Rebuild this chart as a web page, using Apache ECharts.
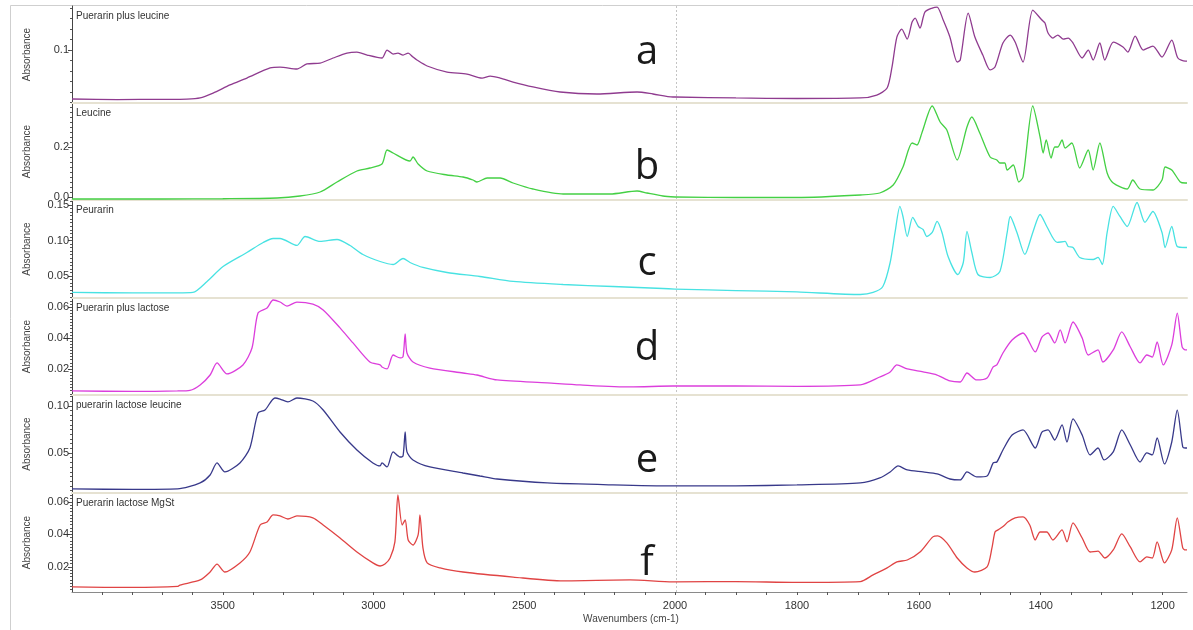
<!DOCTYPE html>
<html>
<head>
<meta charset="utf-8">
<script src="https://cdn.jsdelivr.net/npm/echarts@6/dist/echarts.min.js"></script>
<style>
html, body { margin: 0; padding: 0; background: #fff; }
#chart { width: 1193px; height: 630px; }
#probe { position: absolute; left: -3000px; top: 0; width: 1193px; height: 630px; }
</style>
</head>
<body>
<div id="chart"></div>
<div id="probe"></div>
<script>
// spectra: wavenumber (cm-1) / absorbance
var waveA = [4000, 3850, 3700, 3619, 3575, 3532, 3476, 3420, 3343, 3310, 3254, 3221, 3177, 3134, 3088, 3055, 3021, 2972, 2955, 2935, 2919, 2902, 2885, 2869, 2856, 2822, 2756, 2690, 2640, 2613, 2580, 2537, 2471, 2381, 2259, 2126, 2073, 2007, 2000,
  1900, 1800, 1696, 1669, 1652, 1644, 1636, 1628, 1619, 1611, 1606, 1598, 1590, 1578, 1570, 1560, 1549, 1537, 1532, 1519, 1508, 1495, 1483, 1475, 1462, 1450, 1442, 1429, 1413, 1398, 1393, 1388, 1380, 1372, 1363, 1355, 1347, 1332, 1322, 1314, 1303, 1295, 1281, 1265, 1257, 1245, 1232, 1216, 1201, 1185, 1175, 1163, 1160];
var absA = [0.0533, 0.0528, 0.0530, 0.0532, 0.0543, 0.0590, 0.0667, 0.0733, 0.0829, 0.0838, 0.0819, 0.0867, 0.0876, 0.0924, 0.0971, 0.0981, 0.0952, 0.0924, 0.1000, 0.0962, 0.0971, 0.0952, 0.0971, 0.0933, 0.0905, 0.0848, 0.0790, 0.0771, 0.0733, 0.0752, 0.0733, 0.0695, 0.0648, 0.0600, 0.0581, 0.0600, 0.0581, 0.0552, 0.0552,
  0.0543, 0.0538, 0.0543, 0.0571, 0.0638, 0.0838, 0.1124, 0.1200, 0.1105, 0.1267, 0.1305, 0.1210, 0.1362, 0.1400, 0.1410, 0.1286, 0.1124, 0.0886, 0.0905, 0.1352, 0.1124, 0.0952, 0.0810, 0.0838, 0.1067, 0.1143, 0.1076, 0.0886, 0.1381, 0.1286, 0.1257, 0.1162, 0.1114, 0.1143, 0.1105, 0.1114, 0.1067, 0.0924, 0.1000, 0.0905, 0.1067, 0.0905, 0.1076, 0.1029, 0.0981, 0.1133, 0.1000, 0.1038, 0.0933, 0.1095, 0.0924, 0.0895, 0.0895];

var waveB = [4000, 3700, 3500, 3320, 3244, 3177, 3121, 3055, 3012, 2972, 2955, 2935, 2879, 2869, 2852, 2822, 2756, 2703, 2670, 2657, 2623, 2580, 2537, 2471, 2371, 2215, 2126, 2093, 2040, 2000,
  1900, 1800, 1696, 1664, 1642, 1626, 1611, 1603, 1595, 1578, 1565, 1554, 1537, 1521, 1513, 1500, 1483, 1472, 1467, 1459, 1455, 1445, 1436, 1429, 1413, 1401, 1396, 1391, 1383, 1377, 1372, 1365, 1360, 1349, 1336, 1322, 1314, 1303, 1291, 1281, 1258, 1249, 1237, 1216, 1201, 1196, 1185, 1171, 1163, 1160];
var absB = [-0.008, -0.008, -0.007, -0.004, 0.004, 0.020, 0.060, 0.104, 0.116, 0.132, 0.188, 0.176, 0.144, 0.160, 0.132, 0.104, 0.088, 0.080, 0.068, 0.060, 0.076, 0.076, 0.056, 0.032, 0.012, 0.012, 0.024, 0.016, 0.004, 0.000,
  -0.002, -0.002, 0.008, 0.016, 0.048, 0.120, 0.216, 0.208, 0.256, 0.364, 0.300, 0.268, 0.148, 0.280, 0.320, 0.256, 0.160, 0.148, 0.136, 0.136, 0.108, 0.128, 0.060, 0.080, 0.364, 0.240, 0.176, 0.228, 0.156, 0.200, 0.200, 0.228, 0.196, 0.216, 0.116, 0.188, 0.108, 0.216, 0.096, 0.056, 0.032, 0.068, 0.032, 0.028, 0.068, 0.120, 0.108, 0.060, 0.056, 0.056];

var waveC = [4000, 3800, 3650, 3599, 3552, 3499, 3420, 3366, 3333, 3310, 3254, 3227, 3177, 3121, 3078, 3035, 2978, 2935, 2902, 2879, 2836, 2756, 2647, 2537, 2371, 2206, 2040, 2000,
  1900, 1800, 1696, 1675, 1659, 1647, 1639, 1631, 1626, 1619, 1610, 1601, 1593, 1587, 1578, 1570, 1562, 1552, 1536, 1527, 1521, 1513, 1503, 1483, 1467, 1455, 1450, 1439, 1426, 1413, 1401, 1390, 1373, 1360, 1355, 1347, 1336, 1314, 1306, 1299, 1291, 1281, 1270, 1258, 1242, 1229, 1216, 1201, 1196, 1185, 1176, 1163, 1160];
var absC = [0.0268, 0.0262, 0.0262, 0.0268, 0.0423, 0.0634, 0.0831, 0.0972, 0.1028, 0.1028, 0.0930, 0.1056, 0.0986, 0.1014, 0.0930, 0.0803, 0.0704, 0.0662, 0.0746, 0.0690, 0.0620, 0.0549, 0.0493, 0.0423, 0.0380, 0.0352, 0.0324, 0.0315,
  0.0295, 0.0275, 0.0239, 0.0268, 0.0352, 0.0690, 0.1113, 0.1479, 0.1338, 0.1056, 0.1324, 0.1197, 0.1155, 0.1056, 0.1113, 0.1268, 0.1113, 0.0775, 0.0521, 0.0690, 0.1127, 0.0831, 0.0521, 0.0479, 0.0563, 0.1113, 0.1338, 0.1113, 0.0803, 0.1113, 0.1366, 0.1197, 0.0972, 0.0986, 0.0915, 0.0901, 0.0761, 0.0732, 0.0761, 0.0662, 0.1113, 0.1479, 0.1338, 0.1197, 0.1535, 0.1254, 0.1408, 0.1113, 0.0901, 0.1197, 0.0915, 0.0901, 0.0901];

var waveD = [4000, 3800, 3650, 3609, 3575, 3542, 3519, 3486, 3433, 3403, 3383, 3353, 3333, 3310, 3287, 3254, 3201, 3167, 3111, 3068, 3012, 2978, 2972, 2955, 2935, 2912, 2902, 2895, 2889, 2869, 2813, 2703, 2657, 2590, 2424, 2315, 2149, 2007, 2000,
  1900, 1800, 1696, 1664, 1647, 1636, 1619, 1593, 1570, 1549, 1532, 1521, 1505, 1488, 1478, 1472, 1462, 1447, 1429, 1409, 1398, 1388, 1377, 1368, 1360, 1347, 1332, 1322, 1306, 1298, 1281, 1267, 1253, 1237, 1226, 1217, 1209, 1199, 1185, 1176, 1168, 1163, 1160];
var absD = [0.0058, 0.0055, 0.0058, 0.0062, 0.0097, 0.0161, 0.0239, 0.0168, 0.0226, 0.0335, 0.0561, 0.0594, 0.0645, 0.0632, 0.0606, 0.0632, 0.0619, 0.0581, 0.0465, 0.0368, 0.0245, 0.0226, 0.0213, 0.0200, 0.0290, 0.0271, 0.0280, 0.0426, 0.0303, 0.0245, 0.0206, 0.0174, 0.0161, 0.0129, 0.0110, 0.0097, 0.0084, 0.0090, 0.0090,
  0.0090, 0.0088, 0.0097, 0.0148, 0.0181, 0.0226, 0.0200, 0.0181, 0.0161, 0.0123, 0.0116, 0.0174, 0.0129, 0.0142, 0.0213, 0.0226, 0.0303, 0.0387, 0.0432, 0.0310, 0.0406, 0.0432, 0.0368, 0.0452, 0.0368, 0.0503, 0.0400, 0.0290, 0.0323, 0.0245, 0.0323, 0.0439, 0.0342, 0.0239, 0.0290, 0.0277, 0.0374, 0.0226, 0.0355, 0.0561, 0.0342, 0.0323, 0.0323];

var waveE = [4000, 3800, 3650, 3575, 3542, 3519, 3493, 3443, 3410, 3383, 3360, 3327, 3310, 3284, 3254, 3201, 3167, 3111, 3055, 3002, 2978, 2972, 2955, 2935, 2912, 2902, 2895, 2889, 2869, 2813, 2703, 2647, 2590, 2424, 2206, 2007, 2000,
  1900, 1800, 1696, 1664, 1647, 1634, 1619, 1593, 1570, 1549, 1532, 1521, 1505, 1488, 1478, 1472, 1462, 1447, 1429, 1409, 1398, 1388, 1377, 1365, 1357, 1347, 1332, 1319, 1306, 1296, 1281, 1267, 1253, 1237, 1226, 1217, 1209, 1197, 1185, 1176, 1167, 1163, 1160];
var absE = [0.0117, 0.0112, 0.0117, 0.0181, 0.0266, 0.0394, 0.0298, 0.0394, 0.0553, 0.0926, 0.0957, 0.1085, 0.1074, 0.1043, 0.1085, 0.1053, 0.0957, 0.0723, 0.0532, 0.0394, 0.0362, 0.0394, 0.0351, 0.0511, 0.0457, 0.0470, 0.0723, 0.0511, 0.0426, 0.0351, 0.0287, 0.0255, 0.0223, 0.0181, 0.0160, 0.0149, 0.0149,
  0.0150, 0.0160, 0.0181, 0.0234, 0.0298, 0.0362, 0.0319, 0.0298, 0.0277, 0.0223, 0.0213, 0.0298, 0.0245, 0.0255, 0.0394, 0.0404, 0.0532, 0.0691, 0.0745, 0.0553, 0.0723, 0.0745, 0.0638, 0.0798, 0.0617, 0.0862, 0.0691, 0.0479, 0.0553, 0.0426, 0.0511, 0.0745, 0.0585, 0.0404, 0.0500, 0.0479, 0.0660, 0.0383, 0.0617, 0.0957, 0.0564, 0.0553, 0.0553];

var waveF = [4000, 3800, 3650, 3642, 3575, 3542, 3519, 3493, 3443, 3410, 3376, 3353, 3333, 3310, 3284, 3254, 3201, 3167, 3111, 3055, 3002, 2978, 2962, 2945, 2929, 2919, 2905, 2895, 2885, 2869, 2852, 2846, 2836, 2822, 2779, 2703, 2537, 2371, 2149, 2007, 2000,
  1900, 1800, 1696, 1675, 1652, 1636, 1619, 1598, 1577, 1569, 1554, 1537, 1521, 1508, 1488, 1480, 1475, 1470, 1463, 1459, 1454, 1442, 1429, 1418, 1409, 1401, 1390, 1380, 1365, 1357, 1347, 1332, 1319, 1306, 1295, 1281, 1267, 1253, 1237, 1226, 1217, 1209, 1197, 1185, 1176, 1167, 1163, 1160];
var absF = [0.0077, 0.0074, 0.0080, 0.0089, 0.0120, 0.0169, 0.0218, 0.0169, 0.0225, 0.0292, 0.0458, 0.0477, 0.0520, 0.0514, 0.0495, 0.0514, 0.0502, 0.0458, 0.0378, 0.0292, 0.0225, 0.0206, 0.0218, 0.0255, 0.0354, 0.0643, 0.0458, 0.0489, 0.0366, 0.0335, 0.0397, 0.0520, 0.0317, 0.0225, 0.0194, 0.0169, 0.0138, 0.0114, 0.0120, 0.0108, 0.0108,
  0.0110, 0.0105, 0.0110, 0.0151, 0.0194, 0.0231, 0.0243, 0.0292, 0.0385, 0.0391, 0.0348, 0.0255, 0.0194, 0.0169, 0.0200, 0.0317, 0.0415, 0.0428, 0.0446, 0.0458, 0.0477, 0.0502, 0.0508, 0.0458, 0.0366, 0.0415, 0.0415, 0.0366, 0.0428, 0.0354, 0.0471, 0.0378, 0.0292, 0.0298, 0.0255, 0.0305, 0.0403, 0.0323, 0.0231, 0.0262, 0.0255, 0.0354, 0.0225, 0.0305, 0.0502, 0.0317, 0.0305, 0.0305];

var names = ['Puerarin plus leucine', 'Leucine', 'Peurarin', 'Puerarin plus lactose', 'puerarin lactose leucine', 'Puerarin lactose MgSt'];
var letters = ['a', 'b', 'c', 'd', 'e', 'f'];
var yTickLabels = [[0.1], [0.0, 0.2], [0.05, 0.10, 0.15], [0.02, 0.04, 0.06], [0.05, 0.10], [0.02, 0.04, 0.06]];
var xTickLabelsLeft = [3500, 3000, 2500, 2000];
var xTickLabelsRight = [1800, 1600, 1400, 1200];

var waves = [waveA, waveB, waveC, waveD, waveE, waveF];
var absorb = [absA, absB, absC, absD, absE, absF];
var colors = ['#8f3b8f', '#44d044', '#48e2e2', '#dc3edc', '#38398a', '#e04444'];
var yMin = [0.0495, -0.012, 0.019, 0.0032, 0.0074, 0.0046];
var yMax = [0.142, 0.376, 0.157, 0.0658, 0.1117, 0.0655];
var yMinorStep = [0.01, 0.02, 0.005, 0.002, 0.005, 0.002];
var yDigits = [1, 1, 2, 2, 2, 2];
var letterY = [53, 168, 264, 349, 461, 564];

var panelTop = [6, 103, 200, 298, 395, 493, 592];
var plotLeft = 72, plotSplit = 675, plotRight = 1187;

function steps(from, to, step) {
    var out = [];
    var n = Math.ceil(from / step - 1e-9);
    while (n * step <= to + 1e-9) {
        out.push(+(n * step).toFixed(4));
        n++;
    }
    return out;
}

function fmt(d) {
    return function (v) { return Number(v).toFixed(d); };
}

function buildOption(f) {
    var grids = [], xAxes = [], yAxes = [], series = [], titles = [], graphics = [];
    for (var i = 0; i < 6; i++) {
        var top = panelTop[i], h = panelTop[i + 1] - panelTop[i];
        var bottom = i == 5;
        grids.push({ left: plotLeft, top: top, width: plotSplit - plotLeft, height: h });
        grids.push({ left: plotSplit, top: top, width: plotRight - plotSplit, height: h });

        var axColor = bottom ? '#8a8a8a' : '#e6e2d2';
        var axWidth = bottom ? 1 : 2;
        var xl = {
            type: 'value', gridIndex: 2 * i, min: 2000, max: 4000, inverse: true,
            axisLine: { onZero: false, lineStyle: { color: axColor, width: axWidth } },
            axisTick: { show: bottom, customValues: steps(2000, 3900, 100), length: 3, lineStyle: { color: '#555' } },
            axisLabel: { show: bottom, customValues: xTickLabelsLeft, fontSize: 11, color: '#333', margin: 8, fontFamily: 'Liberation Sans' },
            splitLine: { show: false }
        };
        var xr = {
            type: 'value', gridIndex: 2 * i + 1, min: 1160, max: 2000, inverse: true,
            axisLine: { onZero: false, lineStyle: { color: axColor, width: axWidth } },
            axisTick: { show: bottom, customValues: steps(1200, 1950, 50), length: 3, lineStyle: { color: '#555' } },
            axisLabel: { show: bottom, customValues: xTickLabelsRight, fontSize: 11, color: '#333', margin: 8, fontFamily: 'Liberation Sans' },
            splitLine: { show: false }
        };
        if (f.xFmt) {
            xl.axisLabel.formatter = fmt(0);
            xr.axisLabel.formatter = fmt(0);
        }
        xAxes.push(xl, xr);

        // labelled ticks, then a second axis on the same side for the small ticks
        yAxes.push({
            type: 'value', gridIndex: 2 * i, min: yMin[i], max: yMax[i], position: 'left',
            axisLine: { show: true, onZero: false, lineStyle: { color: '#444' } },
            axisTick: { show: true, customValues: yTickLabels[i], length: 4, lineStyle: { color: '#444' } },
            axisLabel: { customValues: yTickLabels[i], formatter: fmt(yDigits[i]),
                fontSize: 11, color: '#333', margin: 3, fontFamily: 'Liberation Sans' },
            splitLine: { show: false },
            name: 'Absorbance', nameLocation: 'middle', nameGap: 40,
            nameTextStyle: { fontSize: 10, color: '#444', fontFamily: 'Liberation Sans' }
        });
        yAxes.push({
            type: 'value', gridIndex: 2 * i, min: yMin[i], max: yMax[i], position: 'left',
            axisLine: { show: false, onZero: false },
            axisTick: { show: true, customValues: steps(yMin[i], yMax[i], yMinorStep[i]), length: 2, lineStyle: { color: '#555' } },
            axisLabel: { show: false },
            splitLine: { show: false }
        });
        yAxes.push({
            type: 'value', gridIndex: 2 * i + 1, min: yMin[i], max: yMax[i],
            axisLine: { show: false, onZero: false }, axisTick: { show: false }, axisLabel: { show: false }, splitLine: { show: false }
        });

        var left = [], right = [];
        for (var k = 0; k < waves[i].length; k++) {
            var w = waves[i][k];
            if (w >= 2000) left.push([w, absorb[i][k]]);
            if (w <= 2000) right.push([w, absorb[i][k]]);
        }
        series.push({ type: 'line', name: names[i], xAxisIndex: 2 * i, yAxisIndex: 3 * i, data: left,
            showSymbol: false, smooth: f.smooth ? 0.25 : false,
            lineStyle: { color: colors[i], width: 1.3 }, itemStyle: { color: colors[i] } });
        series.push({ type: 'line', name: names[i], xAxisIndex: 2 * i + 1, yAxisIndex: 3 * i + 2, data: right,
            showSymbol: false, smooth: f.smooth ? 0.25 : false,
            lineStyle: { color: colors[i], width: 1.3 }, itemStyle: { color: colors[i] } });

        titles.push({ text: names[i], left: plotLeft + 4, top: top + 5, padding: 0,
            textStyle: { fontSize: 10, fontWeight: 'normal', color: '#333', fontFamily: 'Liberation Sans' } });

        graphics.push({ type: 'text', x: 647, y: letterY[i],
            style: { text: letters[i], font: '40px "Open Sans"', fill: '#1a1a1a', align: 'center', verticalAlign: 'middle' } });
    }
    // frame, dashed divider at the scale change (2000 cm-1), x axis title
    graphics.push({ type: 'rect', shape: { x: 10.5, y: 5.5, width: 1200, height: 700 }, style: { fill: 'none', stroke: '#cfcfcf', lineWidth: 1 }, z: -1 });
    graphics.push({ type: 'line', shape: { x1: plotSplit + 1.5, y1: panelTop[0], x2: plotSplit + 1.5, y2: panelTop[6] },
        style: { stroke: '#c4c4c4', lineWidth: 1, lineDash: [2, 2] } });
    graphics.push({ type: 'text', x: 631, y: 619,
        style: { text: 'Wavenumbers (cm-1)', font: '10px "Liberation Sans"', fill: '#444', align: 'center', verticalAlign: 'middle' } });

    return { animation: false, backgroundColor: '#fff', title: titles, grid: grids,
        xAxis: xAxes, yAxis: yAxes, series: series, graphic: graphics };
}

// try the richer settings off screen first, keep the first that draws cleanly
var variants = [
    { smooth: true, xFmt: true },
    { smooth: false, xFmt: true },
    { smooth: true, xFmt: false },
    { smooth: false, xFmt: false }
];
var chosen = variants[variants.length - 1];
for (var v = 0; v < variants.length; v++) {
    var probe = null;
    try {
        probe = echarts.init(document.getElementById('probe'));
        probe.setOption(buildOption(variants[v]));
        probe.getZr().refreshImmediately();
        probe.dispose();
        chosen = variants[v];
        break;
    } catch (e) {
        console.log('variant ' + v + ' failed: ' + e.message);
        try { probe && probe.dispose(); } catch (e2) {}
    }
}

var myChart = echarts.init(document.getElementById('chart'));
myChart.setOption(buildOption(chosen));
</script>
</body>
</html>
